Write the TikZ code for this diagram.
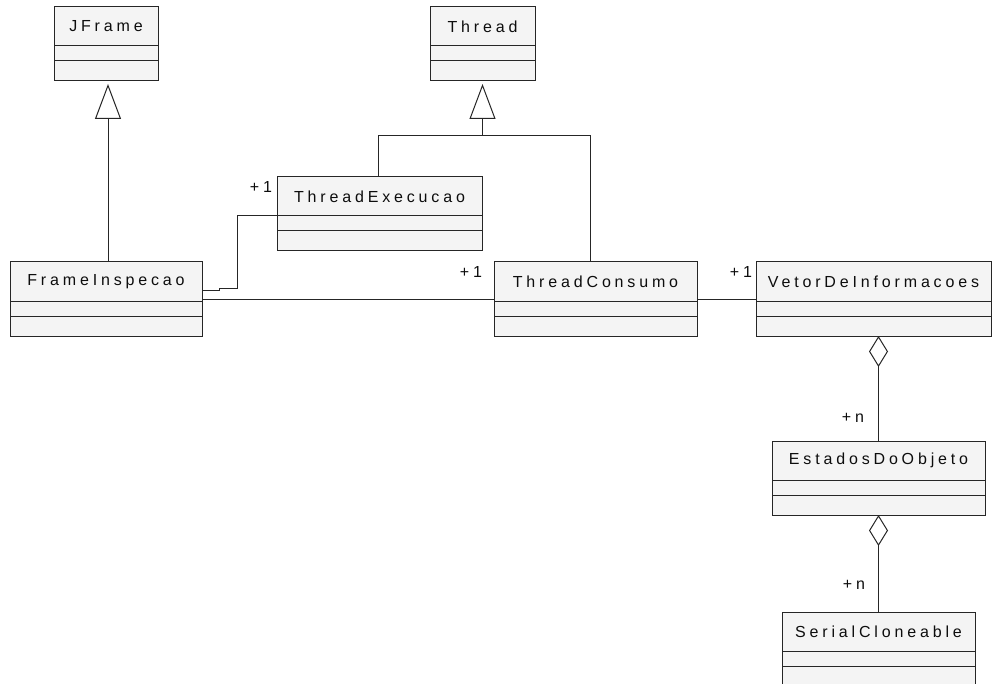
\documentclass[tikz,border=0pt]{standalone}
\usepackage{fontspec}
\setmainfont{Liberation Sans}[LetterSpace=24]
\usetikzlibrary{arrows.meta}

\definecolor{umlline}{gray}{0.15}
\definecolor{umlfill}{gray}{0.955}
\definecolor{umltext}{gray}{0.05}

\tikzset{
  umlline/.style={draw=umlline, line width=1pt},
  umlpart/.style={umlline, fill=umlfill, rectangle, inner sep=0pt, outer sep=0pt},
  umltitle/.style={umlpart, minimum height=39pt, text=umltext,
    font=\fontsize{16}{19}\selectfont},
  umlmid/.style={umlpart, minimum height=15pt},
  umllow/.style={umlpart, minimum height=20pt},
  umlgen/.style={umlline, shorten >=3pt,
    -{Triangle[length=35pt, width=26pt, fill=white]}},
  umlagg/.style={umlline,
    -{Diamond[length=31pt, width=19pt, fill=white]}},
  umlmult/.style={inner sep=0pt, text=umltext, font=\fontsize{16}{19}\selectfont},
}

% class box: name compartment plus two empty compartments
\newcommand\umlclass[4]{%
  \node[umltitle, minimum width=#3, anchor=north west] (#1) at (#2) {#4};
  \node[umlmid, minimum width=#3, anchor=north] (#1-m) at (#1.south) {};
  \node[umllow, minimum width=#3, anchor=north] (#1-b) at (#1-m.south) {};
}

\begin{document}
\begin{tikzpicture}[x=1pt, y=-1pt]
  \useasboundingbox (0,0) rectangle (992,684);
  \fill[white] (0,0) rectangle (992,684);

  % classes
  \umlclass{JFrame}{54,7}{104}{JFrame}
  \umlclass{Thread}{430,7}{105}{Thread}
  \umlclass{ThreadExecucao}{277,177}{205}{ThreadExecucao}
  \umlclass{FrameInspecao}{10,262}{192}{FrameInspecao}
  \umlclass{ThreadConsumo}{494,262}{203}{ThreadConsumo}
  \umlclass{VetorDeInformacoes}{756,262}{235}{VetorDeInformacoes}
  \umlclass{EstadosDoObjeto}{772,441}{213}{EstadosDoObjeto}
  \umlclass{SerialCloneable}{782,612}{193}{SerialCloneable}

  % generalization FrameInspecao -> JFrame
  \draw[umlgen] ([xshift=2pt]FrameInspecao.north)
    -- ([xshift=2pt]FrameInspecao.north |- JFrame-b.south);

  % generalization of both threads -> Thread
  \coordinate (tjoin) at ([yshift=-55pt]Thread-b.south);
  \coordinate (texec) at ([xshift=-1.5pt]ThreadExecucao.north);
  \coordinate (tcons) at ([xshift=-5.5pt]ThreadConsumo.north);
  \draw[umlgen] (tjoin) -- (Thread-b.south);
  \draw[umlline] (texec) -- (texec |- tjoin) -- (tcons |- tjoin) -- (tcons);

  % association FrameInspecao -- ThreadExecucao
  \draw[umlline] ([yshift=-9.5pt]FrameInspecao.east) -- ++(17,0) -- ++(0,-2)
    -- ++(18,0) |- (ThreadExecucao.south west);

  % association FrameInspecao -- ThreadConsumo
  \draw[umlline] ([yshift=2pt]FrameInspecao.south east)
    -- ([yshift=2pt]ThreadConsumo.south west);

  % association ThreadConsumo -- VetorDeInformacoes
  \draw[umlline] ([yshift=2pt]ThreadConsumo.south east)
    -- ([yshift=2pt]VetorDeInformacoes.south west);

  % aggregations
  \draw[umlagg] (EstadosDoObjeto.north)
    -- (EstadosDoObjeto.north |- VetorDeInformacoes-b.south);
  \draw[umlagg] (SerialCloneable.north)
    -- (SerialCloneable.north |- EstadosDoObjeto-b.south);

  % multiplicities
  \node[umlmult] (multExec) at (261,187) {+1};
  \node[umlmult] (multConsumo) at (471,272) {+1};
  \node[umlmult] (multVetor) at (741,272) {+1};
  \node[umlmult] (multEstados) at (853,418) {+n};
  \node[umlmult] (multSerial) at (854,585) {+n};
\end{tikzpicture}
\end{document}
